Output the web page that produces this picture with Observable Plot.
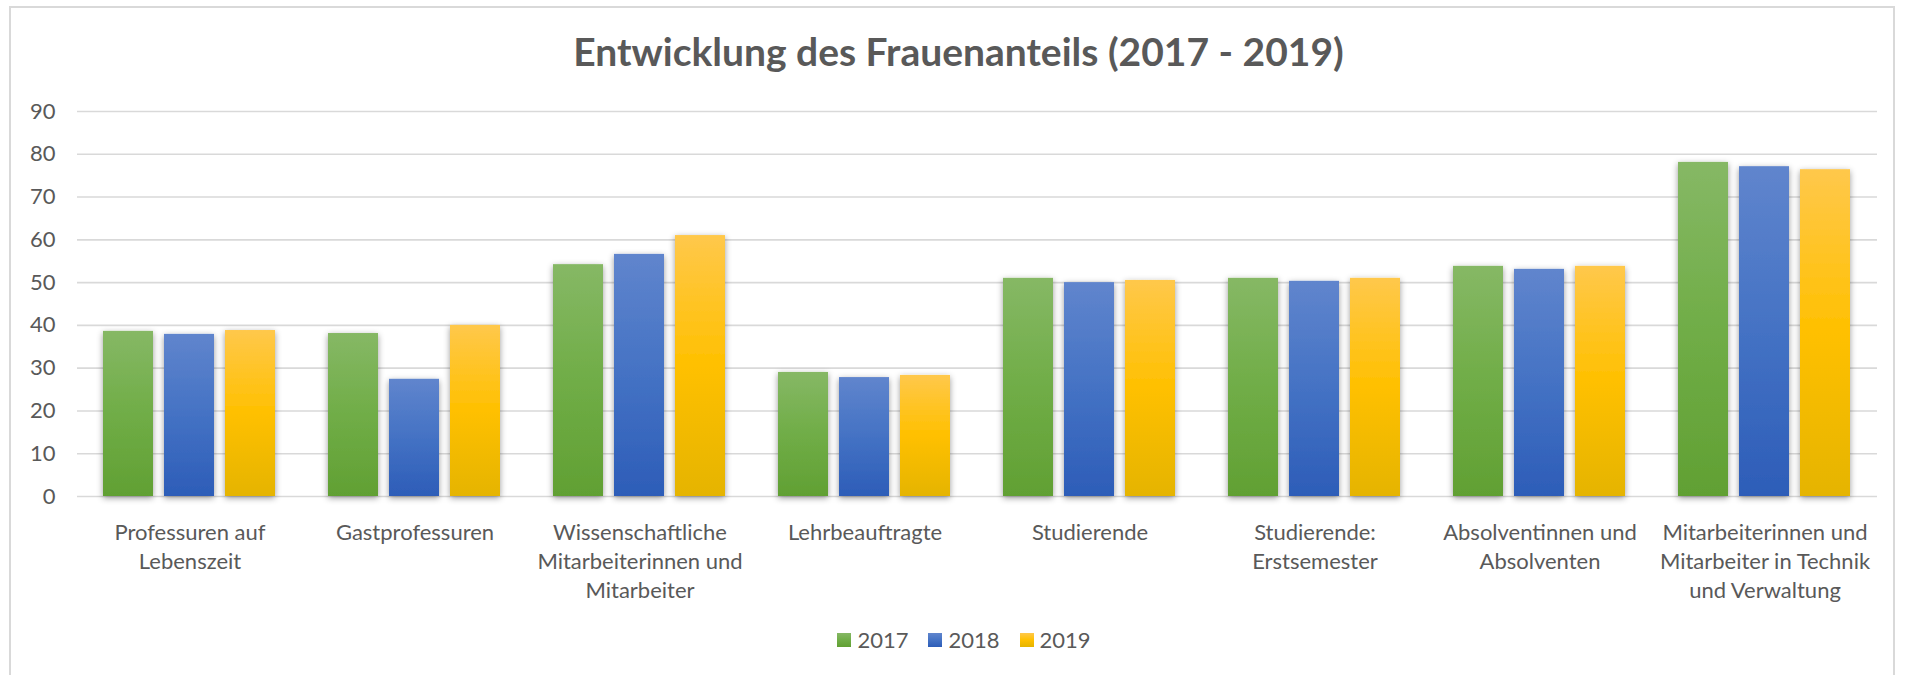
<!DOCTYPE html>
<html>
<head>
<meta charset="utf-8">
<script src="https://cdn.jsdelivr.net/npm/d3@7"></script>
<script src="https://cdn.jsdelivr.net/npm/@observablehq/plot@0.6"></script>
<style>
  html, body { margin: 0; padding: 0; background: #fff; }
  #root { position: relative; width: 1905px; height: 675px; overflow: hidden; background: #fff; font-family: Lato, "Open Sans", sans-serif; color: #595959; }
  #frame { position: absolute; left: 9px; top: 6px; width: 1886px; height: 700px; border: 2px solid #d9d9d9; box-sizing: border-box; }
  #chart { position: absolute; left: 0; top: 0; }
  #title { position: absolute; left: 6px; top: 32px; width: 1905px; text-align: center; font-weight: 700; font-size: 39px; line-height: 39px; white-space: nowrap; }
  #legend { position: absolute; left: 0; top: 626px; width: 1928px; display: flex; justify-content: center; font-size: 22px; line-height: 28px; }
  .item { display: inline-flex; align-items: center; margin: 0 10px; }
  .sw { width: 14px; height: 14px; margin-right: 6px; }
</style>
</head>
<body>
<div id="root">
  <div id="frame"></div>
  <div id="chart"></div>
  <div id="title">Entwicklung des Frauenanteils (2017 - 2019)</div>
  <div id="legend"></div>
</div>
<script>
const categories = [
  "Professuren auf Lebenszeit",
  "Gastprofessuren",
  "Wissenschaftliche Mitarbeiterinnen und Mitarbeiter",
  "Lehrbeauftragte",
  "Studierende",
  "Studierende: Erstsemester",
  "Absolventinnen und Absolventen",
  "Mitarbeiterinnen und Mitarbeiter in Technik und Verwaltung"
];
const tickLabels = [
  "Professuren auf\nLebenszeit",
  "Gastprofessuren",
  "Wissenschaftliche\nMitarbeiterinnen und\nMitarbeiter",
  "Lehrbeauftragte",
  "Studierende",
  "Studierende:\nErstsemester",
  "Absolventinnen und\nAbsolventen",
  "Mitarbeiterinnen und\nMitarbeiter in Technik\nund Verwaltung"
];
const years = ["2017", "2018", "2019"];
const values2017 = [38.6, 38.1, 54.2, 29.0, 51.0, 51.0, 53.8, 78.1];
const values2018 = [37.9, 27.4, 56.6, 27.8, 50.0, 50.3, 53.1, 77.1];
const values2019 = [38.8, 40.0, 61.0, 28.3, 50.5, 51.0, 53.8, 76.4];
const yTicks = [0, 10, 20, 30, 40, 50, 60, 70, 80, 90];

const seriesColors = {
  "2017": ["#86b865", "#70ad47", "#61a033"],
  "2018": ["#6085cd", "#4472c4", "#2d5db8"],
  "2019": ["#ffc84b", "#ffc000", "#e5b400"]
};

const valuesByYear = {"2017": values2017, "2018": values2018, "2019": values2019};
const data = categories.flatMap((c, i) => years.map(y => ({category: c, year: y, value: valuesByYear[y][i]})));

const svg = Plot.plot({
  width: 1905,
  height: 675,
  marginLeft: 74,
  marginRight: 26,
  marginTop: 111,
  marginBottom: 179,
  style: {fontFamily: "Lato, 'Open Sans', sans-serif", fontSize: "22px", color: "#595959", background: "transparent", overflow: "visible"},
  fx: {domain: categories, padding: 0, axis: null},
  x: {domain: years, paddingInner: 0.18, paddingOuter: 0.41, axis: null},
  y: {domain: [0, 90], ticks: 10, tickSize: 0, tickPadding: 22, label: null, tickFormat: d => String(d)},
  color: {domain: years, range: years.map(y => `url(#g${y})`)},
  marks: [
    Plot.ruleY(yTicks, {stroke: "#d9d9d9", strokeWidth: 1.6}),
    Plot.barY(data, {fx: "category", x: "year", y: "value", fill: "year"}),
    Plot.text(categories, {
      fx: d => d,
      text: (d, i) => tickLabels[i],
      frameAnchor: "bottom",
      lineAnchor: "top",
      dy: 23,
      lineHeight: 1.32,
      fontSize: 22,
      fill: "#595959"
    })
  ]
});

const s = d3.select(svg);
const defs = s.insert("defs", ":first-child");
for (const y of years) {
  const g = defs.append("linearGradient").attr("id", `g${y}`).attr("x1", 0).attr("y1", 0).attr("x2", 0).attr("y2", 1);
  g.append("stop").attr("offset", "0%").attr("stop-color", seriesColors[y][0]);
  g.append("stop").attr("offset", "50%").attr("stop-color", seriesColors[y][1]);
  g.append("stop").attr("offset", "100%").attr("stop-color", seriesColors[y][2]);
}
const f = defs.append("filter").attr("id", "shadow").attr("x", "-20%").attr("y", "-10%").attr("width", "140%").attr("height", "120%");
f.append("feDropShadow").attr("dx", 0).attr("dy", 2).attr("stdDeviation", 3).attr("flood-color", "#000").attr("flood-opacity", 0.4);
s.selectAll("g[aria-label='bar']").attr("filter", "url(#shadow)");
s.selectAll("g[aria-label='y-axis'] text, g[aria-label='y-axis tick label'] text").attr("fill", "#595959");

document.getElementById("chart").appendChild(svg);

const legend = document.getElementById("legend");
for (const y of years) {
  const it = document.createElement("div");
  it.className = "item";
  const sw = document.createElement("div");
  sw.className = "sw";
  sw.style.background = `linear-gradient(${seriesColors[y][0]}, ${seriesColors[y][1]}, ${seriesColors[y][2]})`;
  const t = document.createElement("span");
  t.textContent = y;
  it.appendChild(sw);
  it.appendChild(t);
  legend.appendChild(it);
}
</script>
</body>
</html>
